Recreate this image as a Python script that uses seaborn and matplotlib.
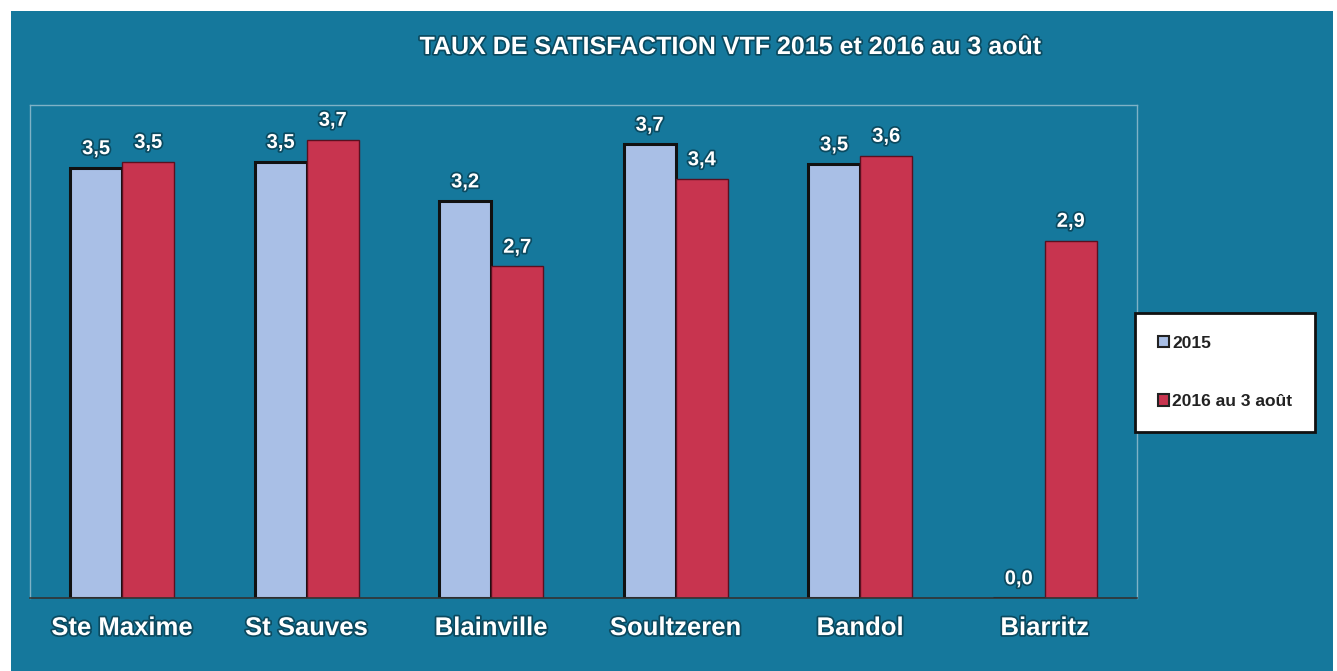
import numpy as np
import pandas as pd
import matplotlib
matplotlib.use("Agg")
import matplotlib.pyplot as plt
import matplotlib.patches as mpatches
import matplotlib.patheffects as pe
import seaborn as sns

# data
sites = ["Ste Maxime", "St Sauves", "Blainville", "Soultzeren", "Bandol", "Biarritz"]
series = ["2015", "2016 au 3 août"]
vals_2015 = [3.49, 3.54, 3.22, 3.68, 3.52, 0.0]
vals_2016 = [3.54, 3.72, 2.69, 3.40, 3.59, 2.90]

bg = "#15789c"
blue = "#a9bfe6"
red = "#c8344f"

df = pd.DataFrame({
    "site": sites * 2,
    "serie": [series[0]] * len(sites) + [series[1]] * len(sites),
    "val": vals_2015 + vals_2016,
})

sns.set_style("white")
plt.rcParams["font.family"] = ["Liberation Sans", "DejaVu Sans"]

fig = plt.figure(figsize=(13.37, 6.71), dpi=100)
fig.patch.set_facecolor("white")
# teal panel (small white margin top/left like the scan)
fig.patches.append(mpatches.Rectangle((11 / 1337, 0), (1333 - 11) / 1337, 1 - 11 / 671,
                                      transform=fig.transFigure, facecolor=bg,
                                      edgecolor="none", zorder=-10))

ax = fig.add_axes([30 / 1337, 1 - 598 / 671, (1137 - 30) / 1337, (598 - 105) / 671])
ax.set_facecolor(bg)

sns.barplot(data=df, x="site", y="val", hue="serie", hue_order=series,
            palette=[blue, red], width=0.565, ax=ax, legend=False, saturation=1)

shadow = [pe.withStroke(linewidth=2.5, foreground="#0b4a60")]
for cont, ec, lw in zip(ax.containers, ["#111111", "#5a1020"], [2.2, 1.0]):
    for b in cont:
        b.set_edgecolor(ec)
        b.set_linewidth(lw)
    labs = [f"{b.get_height():.1f}".replace(".", ",") for b in cont]
    txts = ax.bar_label(cont, labels=labs, padding=7, color="white",
                        fontsize=14.5, fontweight="bold")
    for t in txts:
        t.set_path_effects(shadow)

ax.set_ylim(0, 4.0)
ax.set_xlim(-0.5, len(sites) - 0.5)
ax.set_xlabel("")
ax.set_ylabel("")
ax.set_yticks([])
ax.tick_params(axis="x", length=0, pad=13)
for lbl in ax.get_xticklabels():
    lbl.set_color("white")
    lbl.set_fontsize(18.5)
    lbl.set_fontweight("bold")
    lbl.set_path_effects(shadow)

# category separator ticks
ax.set_xticks(np.arange(-0.5, len(sites), 1), minor=True)
ax.tick_params(axis="x", which="minor", length=5, color="#444444", direction="out")

for s in ["left", "top", "right"]:
    ax.spines[s].set_color("#7fb2c6")
    ax.spines[s].set_linewidth(1)
ax.spines["bottom"].set_color("#333333")
ax.spines["bottom"].set_linewidth(1.2)

fig.text(0.546, 1 - 47 / 671, "TAUX DE SATISFACTION VTF 2015 et 2016 au 3 août",
         ha="center", va="center", color="white", fontsize=18, fontweight="bold",
         path_effects=shadow)

handles = [mpatches.Patch(facecolor=blue, edgecolor="#222222", linewidth=1.5),
           mpatches.Patch(facecolor=red, edgecolor="#222222", linewidth=1.5)]
leg = fig.legend(handles, series, loc="upper left",
                 bbox_to_anchor=(1135 / 1337, 1 - 313 / 671),
                 frameon=True, fancybox=False, framealpha=1,
                 handlelength=0.65, handleheight=0.65, handletextpad=0.2,
                 labelspacing=2.5, borderpad=1.3, borderaxespad=0,
                 prop={"weight": "bold", "size": 12.5})
leg.get_frame().set_edgecolor("#111111")
leg.get_frame().set_linewidth(2)
for t in leg.get_texts():
    t.set_color("#222222")

fig.savefig("out.png", dpi=100, facecolor=fig.get_facecolor())
